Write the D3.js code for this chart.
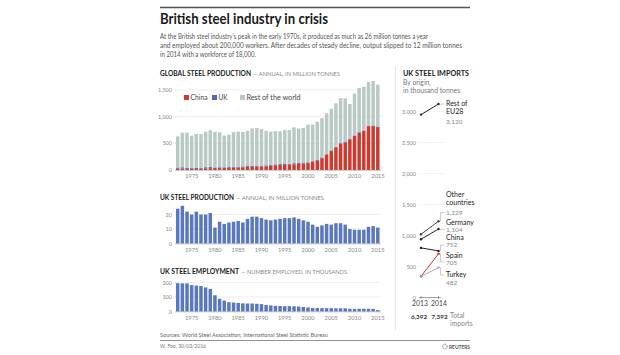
<!DOCTYPE html>
<html><head><meta charset="utf-8">
<script src="https://cdn.jsdelivr.net/npm/d3@7"></script>
<style>body{margin:0;background:#fff}svg{display:block}text{font-family:Lato,"Open Sans",sans-serif}</style>
</head><body><svg id="c" width="620" height="355"></svg>
<script>
const years=[1972,1973,1974,1975,1976,1977,1978,1979,1980,1981,1982,1983,1984,1985,1986,1987,1988,1989,1990,1991,1992,1993,1994,1995,1996,1997,1998,1999,2000,2001,2002,2003,2004,2005,2006,2007,2008,2009,2010,2011,2012,2013,2014,2015];
const china=[23,25,21,24,20,24,32,34,37,36,37,40,43,47,52,56,59,62,66,71,80,89,93,95,101,109,116,124,129,152,182,222,283,355,419,489,512,577,639,702,731,822,823,804];
const ukProd=[24,26,22,20,22,20,20,21,11,15,13.5,14.5,15,15.5,14.5,17,18.5,18.5,17.5,16.5,16,16.5,17,17.5,17.5,18,17,16,15,13,11.5,12.5,13.5,13,14,14,13,10,9.5,9.5,9.5,11.5,12,11];
const restWorld=[583,646,660,600,633,631,665,691,668,656,595,609,652,657,648,663,703,706,687,647,624,623,615,640,632,672,644,649,706,687,712,737,767,780,817,845,818,652,785,827,820,817,835,785];
const ukEmp=[195,194,194,182,179,176,166,156,112,88,75,64,62,59,56,55,55,53,51,45,42,39,38,37,37,36,34,31,28,24,24,23,23,23,22,22,22,19,18,19,19,19,18,10];
const yearTicks=[1975,1980,1985,1990,1995,2000,2005,2010,2015];
const globalTicks=[0,500,1000,1500];
const ukProdTicks=[0,10,20];
const ukEmpTicks=[0,100,200];
const importOrigins=["Rest of EU28","Other countries","Germany","China","Spain","Turkey"];
const imports2013=[2950,1020,940,800,342,340];
const imports2014=[3120,1229,1104,752,705,482];
const importYears=[2013,2014];
const importTicks=[0,500,1000,1500,2000,2500,3000];
const importTotals=[6392,7392];

const svg=d3.select("#c");
const fmt=d3.format(",");
function txt(x,y,s,o={}){
  const t=svg.append("text").attr("x",x).attr("y",y).text(s)
   .attr("font-size",o.size||7).attr("fill",o.fill||"#222").attr("font-weight",o.weight||"normal")
   .attr("text-anchor",o.anchor||"start");
  if(o.len){t.attr("textLength",o.len).attr("lengthAdjust","spacingAndGlyphs");}
  return t;
}
// header
svg.append("line").attr("x1",160).attr("x2",470).attr("y1",7.5).attr("y2",7.5).attr("stroke","#555").attr("stroke-width",1.5);
txt(160,24,"British steel industry in crisis",{size:15.5,weight:"bold",fill:"#1a1a1a",len:168});
txt(160,38.5,"At the British steel industry\u2019s peak in the early 1970s, it produced as much as 26 million tonnes a year",{size:7.2,fill:"#555",len:268});
txt(160,47.5,"and employed about 200,000 workers. After decades of steady decline, output slipped to 12 million tonnes",{size:7.2,fill:"#555",len:302});
txt(160,56.5,"in 2014 with a workforce of 18,000.",{size:7.2,fill:"#555",len:96});

function sectionTitle(y,bold,light,l1,l2){
  txt(160,y,bold,{size:6.5,weight:"bold",fill:"#1a1a1a",len:l1});
  txt(162+l1,y,"\u2014 "+light,{size:6.5,fill:"#888",len:l2});
}
sectionTitle(75.5,"GLOBAL STEEL PRODUCTION","ANNUAL, IN MILLION TONNES",91,87);
sectionTitle(200,"UK STEEL PRODUCTION","ANNUAL, IN MILLION TONNES",74,88);
sectionTitle(273.5,"UK STEEL EMPLOYMENT","NUMBER EMPLOYED, IN THOUSANDS",79,106);

const x=d3.scaleBand().domain(years).range([175.5,380]).paddingInner(0.25).paddingOuter(0.1);
const gx0=175,gx1=381;
function yAxisGrid(y,ticks,f){
  ticks.forEach(t=>{
    if(t>0) svg.append("line").attr("x1",gx0).attr("x2",gx1).attr("y1",y(t)).attr("y2",y(t)).attr("stroke","#e2e2e2").attr("stroke-width",0.6);
    txt(172,y(t)+2,f(t),{size:5.5,fill:"#888",anchor:"end"});
  });
}
function xAxis(y0){
  svg.append("line").attr("x1",gx0).attr("x2",gx1).attr("y1",y0+0.3).attr("y2",y0+0.3).attr("stroke","#999").attr("stroke-width",0.6);
  yearTicks.forEach(t=>txt(x(t)+x.bandwidth()/2,y0+8,String(t),{size:5.8,fill:"#888",anchor:"middle"}));
}
// global chart
const yG=d3.scaleLinear().domain([0,1500]).range([170,90]);
yAxisGrid(yG,globalTicks,fmt);
const rows=years.map((yr,i)=>({year:yr,china:china[i],uk:ukProd[i],rest:restWorld[i]}));
const keys=["china","uk","rest"];
const colors={china:"#d0392e",uk:"#4c6db3",rest:"#b9c9c3"};
const stack=d3.stack().keys(keys)(rows);
stack.forEach(s=>{
  svg.append("g").selectAll("rect").data(s).join("rect")
   .attr("x",d=>x(d.data.year)).attr("width",x.bandwidth())
   .attr("y",d=>yG(d[1])).attr("height",d=>yG(d[0])-yG(d[1])).attr("fill",colors[s.key]);
});
xAxis(170);
// legend
const legend=[["china","China",184,17],["uk","UK",212,9],["rest","Rest of the world",240,54]];
legend.forEach(([k,l,lx,lw])=>{
  svg.append("rect").attr("x",lx).attr("y",95).attr("width",5).attr("height",5).attr("fill",colors[k]);
  txt(lx+6.5,100.3,l,{size:7,fill:"#444",len:lw});
});
// UK production
const yP=d3.scaleLinear().domain([0,20]).range([243.5,214.5]);
yAxisGrid(yP,ukProdTicks,d=>d);
svg.append("g").selectAll("rect").data(years).join("rect")
  .attr("x",d=>x(d)).attr("width",x.bandwidth())
  .attr("y",(d,i)=>yP(ukProd[i])).attr("height",(d,i)=>yP(0)-yP(ukProd[i])).attr("fill","#5a78bd");
xAxis(243.5);
// UK employment
const yE=d3.scaleLinear().domain([0,200]).range([311.5,282.5]);
yAxisGrid(yE,ukEmpTicks,d=>d);
svg.append("g").selectAll("rect").data(years).join("rect")
  .attr("x",d=>x(d)).attr("width",x.bandwidth())
  .attr("y",(d,i)=>yE(ukEmp[i])).attr("height",(d,i)=>yE(0)-yE(ukEmp[i])).attr("fill","#5a78bd");
xAxis(311.5);
// footer
txt(160,337,"Sources: World Steel Association; International Steel Statistic Bureau",{size:5.5,fill:"#666",len:168});
svg.append("line").attr("x1",160).attr("x2",470).attr("y1",340.5).attr("y2",340.5).attr("stroke","#777").attr("stroke-width",0.8);
txt(160,348,"W. Foo, 30/03/2016",{size:5.5,fill:"#777",len:46});
svg.append("circle").attr("cx",445).attr("cy",346.5).attr("r",2.3).attr("fill","none").attr("stroke","#666").attr("stroke-width",1).attr("stroke-dasharray","0.8 0.6");
txt(449,348.5,"REUTERS",{size:5.5,weight:"bold",fill:"#555",len:21});

// right panel divider
svg.append("line").attr("x1",395.5).attr("x2",395.5).attr("y1",66).attr("y2",330).attr("stroke","#ddd").attr("stroke-width",0.8);
txt(403,76,"UK STEEL IMPORTS",{size:6.5,weight:"bold",fill:"#1a1a1a",len:66});
txt(403,84.5,"By origin,",{size:6.8,fill:"#777"});
txt(403,92.5,"in thousand tonnes",{size:6.8,fill:"#777"});
const xI=d3.scalePoint().domain(importYears).range([421,438.5]);
const yI=d3.scaleLinear().domain([0,3000]).range([297.5,111.5]);
importTicks.forEach(t=>{
  if(t>0){
    svg.append("line").attr("x1",419).attr("x2",444).attr("y1",yI(t)).attr("y2",yI(t)).attr("stroke","#ddd").attr("stroke-width",0.6).attr("stroke-dasharray","1 0.7");
  }
  txt(416,yI(t)+2,fmt(t),{size:5.5,fill:"#888",anchor:"end"});
});
svg.append("line").attr("x1",419).attr("x2",441).attr("y1",yI(0)).attr("y2",yI(0)).attr("stroke","#666").attr("stroke-width",0.6);
importYears.forEach(yr=>{
  svg.append("line").attr("x1",xI(yr)).attr("x2",xI(yr)).attr("y1",yI(0)-1.5).attr("y2",yI(0)+1.5).attr("stroke","#666").attr("stroke-width",0.6);
  txt(xI(yr)+(yr===2013?-1:0.5),306,String(yr),{size:6.8,fill:"#444",anchor:"middle"});
});
importTotals.forEach((v,i)=>txt(xI(importYears[i])+(i===0?-2:1),318.5,fmt(v),{size:6.3,weight:"bold",fill:"#333",anchor:"middle"}));
txt(450,318,"Total",{size:6.8,fill:"#888"});
txt(450,325.5,"imports",{size:6.8,fill:"#888"});
const lineColors=["#222","#444","#222","#222","#c9302c","#aaa"];
const labelLayout=[
  {lines:["Rest of","EU28"],ny:123.5,ty:105.5,cy:null},
  {lines:["Other","countries"],ny:214.5,ty:197,cy:212.5},
  {lines:["Germany"],ny:232,ty:224.5,cy:229.5},
  {lines:["China"],ny:247,ty:240,cy:245},
  {lines:["Spain"],ny:264.5,ty:257.5,cy:262},
  {lines:["Turkey"],ny:284.5,ty:277,cy:275}
];
importOrigins.forEach((o,i)=>{
  const x0=xI(2013),x1=xI(2014),y0=yI(imports2013[i]),y1=yI(imports2014[i]);
  const L=labelLayout[i];
  if(L.cy!==null){
    svg.append("path").attr("d",`M${x1},${y1}H${x1+2}V${L.cy}H${x1+6}`).attr("fill","none").attr("stroke","#aaa").attr("stroke-width",0.6);
  } else {
    svg.append("line").attr("x1",x1+2).attr("x2",x1+6).attr("y1",y1).attr("y2",y1).attr("stroke","#aaa").attr("stroke-width",0.6);
  }
  svg.append("line").attr("x1",x0).attr("x2",x1).attr("y1",y0).attr("y2",y1).attr("stroke",lineColors[i]).attr("stroke-width",1);
  [[x0,y0],[x1,y1]].forEach(([cx,cy])=>svg.append("circle").attr("cx",cx).attr("cy",cy).attr("r",1.2).attr("fill",lineColors[i]));
  L.lines.forEach((s,j)=>txt(446,L.ty+j*8,s,{size:7,fill:"#222"}));
  txt(446,L.ny,fmt(imports2014[i]),{size:6.5,fill:"#888"});
});
</script></body></html>
